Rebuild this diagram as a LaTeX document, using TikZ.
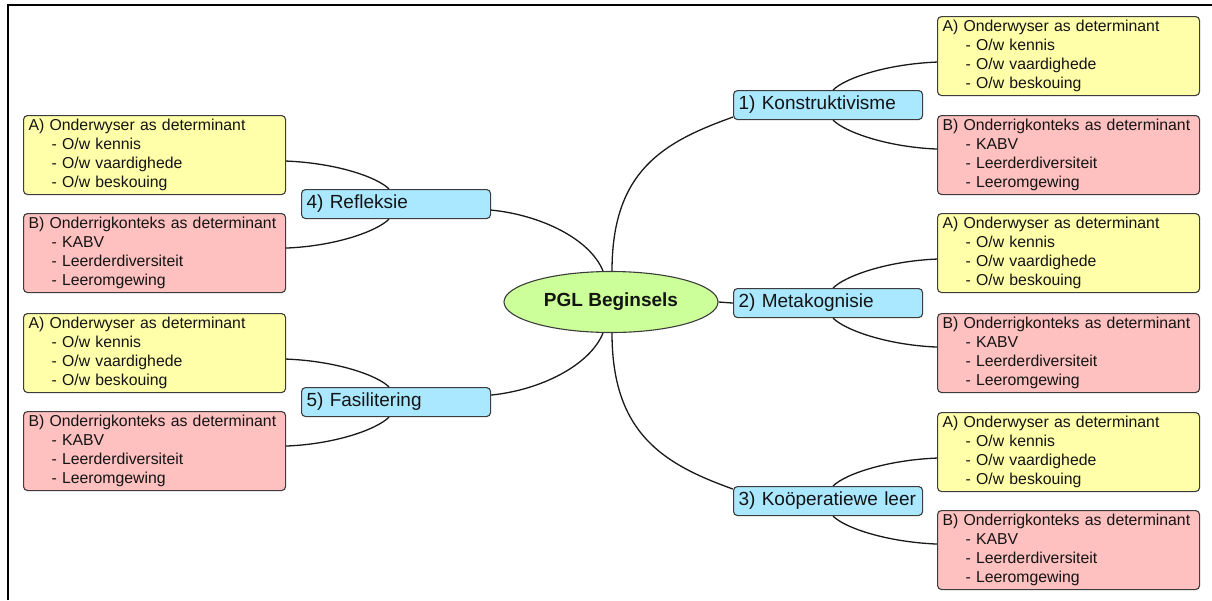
\documentclass[tikz,border=0pt]{standalone}
\usepackage{fontspec}
\setmainfont{Liberation Sans}
\usetikzlibrary{shapes.geometric}
\definecolor{cyel}{RGB}{255,255,170}
\definecolor{cpink}{RGB}{255,192,192}
\definecolor{cblue}{RGB}{170,232,255}
\definecolor{cgreen}{RGB}{204,255,153}
\definecolor{cborder}{RGB}{60,60,60}
\definecolor{ctext}{RGB}{20,20,20}
\definecolor{cline}{RGB}{25,25,25}
\newcommand{\itm}{\hspace*{23pt}- }
\begin{document}
\begin{tikzpicture}[x=1pt,y=-1pt,
  every node/.style={text=ctext},
  detail/.style={draw=cborder, line width=1.1pt, rounded corners=4pt,
    minimum height=79pt, text width=252pt, inner xsep=5pt, inner ysep=0pt,
    align=left, font=\fontsize{15.8}{19}\selectfont, anchor=north west},
  yel/.style={detail, fill=cyel},
  pnk/.style={detail, fill=cpink},
  topic/.style={draw=cborder, line width=1.1pt, fill=cblue, rounded corners=4pt,
    minimum height=29pt, text width=179pt, inner xsep=5pt, inner ysep=0pt,
    align=left, font=\fontsize{19}{22}\selectfont, anchor=north west},
  conn/.style={draw=cline, line width=1.3pt}
]
\useasboundingbox (0,0) rectangle (1212,600);
\draw[line width=1.6pt] (8,600) -- (8,5) -- (1212,5);

% centre
\node[ellipse, draw=cborder, line width=1.1pt, fill=cgreen, minimum width=214pt,
  minimum height=61pt, inner sep=0pt, font=\bfseries\fontsize{19}{22}\selectfont]
  (P) at (611,302) {PGL Beginsels};

% right side
\node[topic] (K) at (733,90) {1) Konstruktivisme};
\node[yel] (KA) at (937,16) {A) Onderwyser as determinant\\\itm O/w kennis\\\itm O/w vaardighede\\\itm O/w beskouing};
\node[pnk] (KB) at (937,115) {B) Onderrigkonteks as determinant\\\itm KABV\\\itm Leerderdiversiteit\\\itm Leeromgewing};

\node[topic] (M) at (733,288) {2) Metakognisie};
\node[yel] (MA) at (937,213) {A) Onderwyser as determinant\\\itm O/w kennis\\\itm O/w vaardighede\\\itm O/w beskouing};
\node[pnk] (MB) at (937,313) {B) Onderrigkonteks as determinant\\\itm KABV\\\itm Leerderdiversiteit\\\itm Leeromgewing};

\node[topic] (C) at (733,486) {3) Koöperatiewe leer};
\node[yel] (CA) at (937,412) {A) Onderwyser as determinant\\\itm O/w kennis\\\itm O/w vaardighede\\\itm O/w beskouing};
\node[pnk] (CB) at (937,510) {B) Onderrigkonteks as determinant\\\itm KABV\\\itm Leerderdiversiteit\\\itm Leeromgewing};

% left side
\node[topic] (R) at (301,189) {4) Refleksie};
\node[yel] (RA) at (23,115) {A) Onderwyser as determinant\\\itm O/w kennis\\\itm O/w vaardighede\\\itm O/w beskouing};
\node[pnk] (RB) at (23,213) {B) Onderrigkonteks as determinant\\\itm KABV\\\itm Leerderdiversiteit\\\itm Leeromgewing};

\node[topic] (F) at (301,387) {5) Fasilitering};
\node[yel] (FA) at (23,313) {A) Onderwyser as determinant\\\itm O/w kennis\\\itm O/w vaardighede\\\itm O/w beskouing};
\node[pnk] (FB) at (23,411) {B) Onderrigkonteks as determinant\\\itm KABV\\\itm Leerderdiversiteit\\\itm Leeromgewing};

% centre connectors
\path[conn] ([xshift=1pt]P.north) .. controls +(0,-100) and +(-70,25) .. ([yshift=-12pt]K.west);
\path[conn] (P.east) -- (M.west);
\path[conn] ([xshift=1pt]P.south) .. controls +(0,100) and +(-70,-25) .. ([yshift=12pt]C.west);
\path[conn] ([xshift=-8pt]P.north) .. controls +(-13,-32) and +(50,5) .. ([yshift=-6pt]R.east);
\path[conn] ([xshift=-8pt]P.south) .. controls +(-13,32) and +(50,-5) .. ([yshift=7pt]F.east);

% right sub connectors
\path[conn] ([xshift=5pt]K.north) .. controls +(12,-12) and +(-50,2) .. ([yshift=-6pt]KA.west);
\path[conn] ([xshift=5pt]K.south) .. controls +(12,12) and +(-50,-2) .. ([yshift=6pt]KB.west);
\path[conn] ([xshift=5pt]M.north) .. controls +(12,-12) and +(-50,2) .. ([yshift=-6pt]MA.west);
\path[conn] ([xshift=5pt]M.south) .. controls +(12,12) and +(-50,-2) .. ([yshift=6pt]MB.west);
\path[conn] ([xshift=5pt]C.north) .. controls +(12,-12) and +(-50,2) .. ([yshift=-6pt]CA.west);
\path[conn] ([xshift=5pt]C.south) .. controls +(12,12) and +(-50,-2) .. ([yshift=6pt]CB.west);

% left sub connectors
\path[conn] ([xshift=-7pt]R.north) .. controls +(-12,-12) and +(50,2) .. ([yshift=-6pt]RA.east);
\path[conn] ([xshift=-7pt]R.south) .. controls +(-12,12) and +(50,-2) .. ([yshift=5pt]RB.east);
\path[conn] ([xshift=-7pt]F.north) .. controls +(-12,-12) and +(50,2) .. ([yshift=-6pt]FA.east);
\path[conn] ([xshift=-7pt]F.south) .. controls +(-12,12) and +(50,-2) .. ([yshift=5pt]FB.east);
\end{tikzpicture}
\end{document}
